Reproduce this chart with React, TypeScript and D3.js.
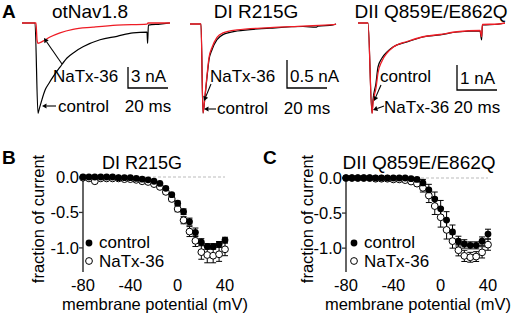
import React from "react";
import * as d3 from "d3";

const FONT = "Liberation Sans, Arial, Helvetica, sans-serif";
const RED = "#ee1c25";

// ---------- Panel A: current traces [time ms, current nA] ----------
const otNavControl: [number, number][] = [
  [0, 0], [6.5, 0], [8, -12.9], [8.5, -12.4], [9.5, -11.4], [11.5, -9.6], [13.5, -8.6],
  [15.5, -7.7], [19, -6.3], [22.5, -5.0], [26.5, -4.1], [30.5, -3.4], [39, -2.4],
  [47.5, -1.9], [55.5, -1.4], [62.5, -1.3], [62.8, -2.9], [63.2, -0.3], [69, -0.15], [74, 0],
];
const otNavToxin: [number, number][] = [
  [0, 0], [7, 0], [7.5, -2.4], [8, -2.9], [10.5, -2.6], [14, -2.0], [19, -1.4],
  [25.5, -0.9], [35.5, -0.6], [47.5, -0.3], [62.5, -0.15], [63, 0], [74, 0],
];
const r215gTraceControl: [number, number][] = [
  [0, 0], [5.5, 0], [6.5, -1.59], [7.5, -1.3], [8.5, -0.95], [9.5, -0.64], [11, -0.46],
  [13.5, -0.28], [16.5, -0.19], [23.5, -0.125], [40, -0.075], [56.5, -0.045], [63, -0.055],
  [64, -0.04], [71.5, -0.015], [73, 0],
];
const r215gTraceToxin: [number, number][] = [
  [0, 0], [5.5, 0], [6.5, -1.59], [7.5, -1.28], [8.5, -0.92], [9.5, -0.6], [11, -0.42],
  [13.5, -0.24], [16.5, -0.16], [23.5, -0.105], [40, -0.065], [56.5, -0.038], [71.5, -0.012], [73, 0],
];
const q859TraceControl: [number, number][] = [
  [0, 0], [5, 0], [7, -3.6], [7.5, -3.08], [9, -2.4], [10, -1.76], [12, -1.4], [14.5, -1.16],
  [17.5, -0.96], [24.5, -0.76], [32.5, -0.56], [41, -0.48], [49.5, -0.36], [61, -0.32],
  [61.8, -0.68], [62.2, -0.08], [70, -0.05], [73.5, 0],
];
const q859TraceToxin: [number, number][] = [
  [0, 0], [5, 0], [7, -3.62], [7.5, -3.2], [9, -2.6], [10, -2.0], [12, -1.52], [14.5, -1.2],
  [17.5, -0.97], [24.5, -0.74], [32.5, -0.55], [41, -0.46], [49.5, -0.35], [61, -0.3],
  [61.8, -0.55], [62.2, -0.06], [70, -0.04], [73.5, 0],
];

// ---------- Panels B, C: I-V data ----------
const voltages = [-80, -75, -70, -65, -60, -55, -50, -45, -40, -35, -30, -25, -20, -15, -10, -5, 0, 5, 10, 15, 20, 25, 30, 35, 40];
const xTicks = [-80, -40, 0, 40];
const yTicks = [0, -0.5, -1.0];

const r215gControl = [0, 0, 0, 0, 0, 0, -0.01, -0.01, -0.01, -0.02, -0.03, -0.04, -0.06, -0.09, -0.16, -0.25, -0.37, -0.49, -0.63, -0.78, -0.92, -0.98, -0.98, -0.95, -0.89];
const r215gControlErr = [0, 0, 0, 0, 0, 0, 0, 0, 0, 0, 0, 0, 0, 0, 0.02, 0.02, 0.03, 0.04, 0.05, 0.06, 0.05, 0.04, 0.04, 0.04, 0.04];
const r215gToxin = [-0.01, -0.02, -0.06, -0.02, -0.02, -0.02, -0.02, -0.03, -0.03, -0.04, -0.06, -0.07, -0.1, -0.14, -0.21, -0.31, -0.45, -0.61, -0.77, -0.9, -1.06, -1.1, -1.11, -1.09, -1.02];
const r215gToxinErr = [0, 0, 0, 0, 0, 0, 0, 0, 0, 0, 0, 0, 0, 0.02, 0.03, 0.03, 0.04, 0.05, 0.07, 0.08, 0.1, 0.11, 0.1, 0.1, 0.09];

const q859Control = [0, 0, 0, 0, 0, 0, 0, 0, 0, 0, 0, -0.01, -0.02, -0.07, -0.17, -0.3, -0.44, -0.6, -0.77, -0.9, -0.94, -0.96, -0.96, -0.9, -0.8];
const q859ControlErr = [0, 0, 0, 0, 0, 0, 0, 0, 0, 0, 0, 0, 0.02, 0.05, 0.08, 0.1, 0.12, 0.12, 0.1, 0.07, 0.06, 0.05, 0.05, 0.06, 0.07];
const q859Toxin = [0, 0, 0, 0, 0, -0.01, -0.01, -0.01, -0.02, -0.02, -0.03, -0.05, -0.08, -0.14, -0.25, -0.4, -0.56, -0.74, -0.9, -1.03, -1.11, -1.13, -1.12, -1.06, -0.95];
const q859ToxinErr = [0, 0, 0, 0, 0, 0, 0, 0, 0, 0, 0, 0.02, 0.03, 0.06, 0.1, 0.12, 0.14, 0.13, 0.1, 0.08, 0.08, 0.07, 0.07, 0.08, 0.08];

const fmt = (v: number) => d3.format(".1f")(v).replace("\u2212", "-");

type TraceProps = {
  title: string; titleX: number;
  x0: number; x1: number; tMax: number; y0: number; pxPerNA: number;
  control: [number, number][]; toxin: [number, number][]; toxinOnTop: boolean;
  barX: number; barY: number; barNA: number; barLabel: string;
  upperText: string; upperX: number; upperArrow: [number, number, number, number];
  lowerText: string; lowerX: number; lowerY: number; lowerArrow: [number, number, number, number];
  msY: number;
};

function Arrow({ a }: { a: [number, number, number, number] }) {
  const [x1, y1, x2, y2] = a;
  const ang = Math.atan2(y2 - y1, x2 - x1);
  const L = 4.5, W = 2.6;
  const bx = x2 - L * Math.cos(ang), by = y2 - L * Math.sin(ang);
  const px = -Math.sin(ang) * W, py = Math.cos(ang) * W;
  return (
    <g>
      <line x1={x1} y1={y1} x2={bx} y2={by} stroke="#000" strokeWidth={1.1} />
      <path d={`M${x2},${y2}L${bx + px},${by + py}L${bx - px},${by - py}Z`} fill="#000" />
    </g>
  );
}

function TracePanel(p: TraceProps) {
  const x = d3.scaleLinear().domain([0, p.tMax]).range([p.x0, p.x1]);
  const y = d3.scaleLinear().domain([0, -1]).range([p.y0, p.y0 + p.pxPerNA]);
  const line = d3.line<[number, number]>().x((d) => x(d[0])).y((d) => y(d[1])).curve(d3.curveMonotoneX);
  const msLen = x(20) - x(0);
  const naLen = y(-p.barNA) - y(0);
  const black = <path d={line(p.control) || ""} fill="none" stroke="#000" strokeWidth={1.2} />;
  const red = <path d={line(p.toxin) || ""} fill="none" stroke={RED} strokeWidth={1.3} />;
  return (
    <g>
      <text x={p.titleX} y={18} textAnchor="middle" fontSize={19} fontFamily={FONT}>{p.title}</text>
      {p.toxinOnTop ? <>{black}{red}</> : <>{red}{black}</>}
      <path d={`M${p.barX},${p.barY - naLen}V${p.barY}H${p.barX + msLen}`} fill="none" stroke="#000" strokeWidth={1.3} />
      <text x={p.barX + 3} y={p.barY - 6} fontSize={17} fontFamily={FONT}>{p.barLabel}</text>
      <text x={p.barX + msLen / 2} y={p.msY} textAnchor="middle" fontSize={17} fontFamily={FONT}>20 ms</text>
      <text x={p.upperX} y={82} fontSize={17} fontFamily={FONT}>{p.upperText}</text>
      <Arrow a={p.upperArrow} />
      <text x={p.lowerX} y={p.lowerY} fontSize={17} fontFamily={FONT}>{p.lowerText}</text>
      <Arrow a={p.lowerArrow} />
    </g>
  );
}

type IVProps = {
  label: string; labelX: number; title: string; titleX: number; titleSize: number;
  ax: number; ax1: number; y0: number; yBottom: number;
  control: number[]; controlErr: number[]; toxin: number[]; toxinErr: number[];
  legendX: number; yLabelX: number;
};

function IVPanel(p: IVProps) {
  const x = d3.scaleLinear().domain([-80, 40]).range([p.ax, p.ax1]);
  const y = d3.scaleLinear().domain([0, -1.34]).range([p.y0, p.yBottom]);
  const r = 3.4;
  const err = (vals: number[], errs: number[], key: string) =>
    voltages.map((v, i) => {
      const e = errs[i];
      if (!e) return null;
      const cx = x(v);
      return (
        <g key={key + i} stroke="#000" strokeWidth={1}>
          <line x1={cx} x2={cx} y1={y(vals[i] + e)} y2={y(vals[i] - e)} />
          <line x1={cx - 3} x2={cx + 3} y1={y(vals[i] + e)} y2={y(vals[i] + e)} />
          <line x1={cx - 3} x2={cx + 3} y1={y(vals[i] - e)} y2={y(vals[i] - e)} />
        </g>
      );
    });
  const midX = (p.ax + p.ax1) / 2;
  return (
    <g fontFamily={FONT}>
      <text x={p.labelX} y={164} fontSize={19} fontWeight="bold">{p.label}</text>
      <text x={p.titleX} y={169} textAnchor="middle" fontSize={p.titleSize}>{p.title}</text>
      <line x1={p.ax} x2={p.ax1} y1={y(0)} y2={y(0)} stroke="#bbb" strokeWidth={1} strokeDasharray="3,2" />
      <line x1={p.ax} x2={p.ax} y1={y(0)} y2={p.yBottom} stroke="#333" strokeWidth={1.5} />
      {yTicks.map((t) => (
        <g key={t}>
          <line x1={p.ax - 4} x2={p.ax} y1={y(t)} y2={y(t)} stroke="#333" strokeWidth={1.3} />
          <text x={p.ax - 4} y={y(t) + 6} textAnchor="end" fontSize={16.5}>{fmt(t)}</text>
        </g>
      ))}
      {xTicks.map((t) => (
        <text key={t} x={x(t)} y={291} textAnchor="middle" fontSize={16.5}>{t}</text>
      ))}
      <text x={midX + 1} y={310} textAnchor="middle" fontSize={16.5}>membrane potential (mV)</text>
      <text transform={`translate(${p.yLabelX},${219}) rotate(-90)`} textAnchor="middle" fontSize={16.5}>fraction of current</text>
      {err(p.toxin, p.toxinErr, "te")}
      {err(p.control, p.controlErr, "ce")}
      {voltages.map((v, i) => (
        <circle key={"t" + i} cx={x(v)} cy={y(p.toxin[i])} r={r} fill="#fff" stroke="#000" strokeWidth={1} />
      ))}
      {voltages.map((v, i) => (
        <circle key={"c" + i} cx={x(v)} cy={y(p.control[i])} r={r} fill="#000" />
      ))}
      <circle cx={p.legendX} cy={243} r={r} fill="#000" />
      <text x={p.legendX + 10} y={248} fontSize={17}>control</text>
      <circle cx={p.legendX} cy={261} r={r} fill="#fff" stroke="#000" strokeWidth={1} />
      <text x={p.legendX + 10} y={267} fontSize={17}>NaTx-36</text>
    </g>
  );
}

export default function App() {
  return (
    <svg width={512} height={318} style={{ position: "absolute", left: 0, top: 0 }} xmlns="http://www.w3.org/2000/svg">
      <rect width={512} height={318} fill="#fff" />
      <text x={2} y={18} fontSize={19} fontWeight="bold" fontFamily={FONT}>A</text>
      <TracePanel
        title="otNav1.8" titleX={90} x0={22} x1={170} tMax={74} y0={23} pxPerNA={7}
        control={otNavControl} toxin={otNavToxin} toxinOnTop={true}
        barX={128} barY={88} barNA={3} barLabel="3 nA"
        upperText="NaTx-36" upperX={53} upperArrow={[62, 64, 44, 38]}
        lowerText="control" lowerX={58} lowerY={112} lowerArrow={[56, 106, 42, 106]}
        msY={112}
      />
      <TracePanel
        title="DI R215G" titleX={256} x0={190} x1={336} tMax={73} y0={24} pxPerNA={56}
        control={r215gTraceControl} toxin={r215gTraceToxin} toxinOnTop={true}
        barX={287} barY={88} barNA={0.5} barLabel="0.5 nA"
        upperText="NaTx-36" upperX={210} upperArrow={[211, 84, 204, 101]}
        lowerText="control" lowerX={217} lowerY={114} lowerArrow={[216, 109, 204, 109]}
        msY={114}
      />
      <TracePanel
        title="DII Q859E/E862Q" titleX={431} x0={358} x1={505} tMax={73.5} y0={23} pxPerNA={25}
        control={q859TraceControl} toxin={q859TraceToxin} toxinOnTop={true}
        barX={457} barY={90} barNA={1} barLabel="1 nA"
        upperText="control" upperX={380} upperArrow={[381, 85, 374, 101]}
        lowerText="NaTx-36" lowerX={384} lowerY={113} lowerArrow={[384, 106, 373, 110]}
        msY={113}
      />
      <IVPanel
        label="B" labelX={2} title="DI R215G" titleX={142} titleSize={18} ax={83} ax1={225} y0={177} yBottom={272}
        control={r215gControl} controlErr={r215gControlErr} toxin={r215gToxin} toxinErr={r215gToxinErr}
        legendX={89} yLabelX={44}
      />
      <IVPanel
        label="C" labelX={263} title="DII Q859E/E862Q" titleX={419} titleSize={19} ax={346} ax1={488} y0={178} yBottom={272}
        control={q859Control} controlErr={q859ControlErr} toxin={q859Toxin} toxinErr={q859ToxinErr}
        legendX={354} yLabelX={313}
      />
    </svg>
  );
}
